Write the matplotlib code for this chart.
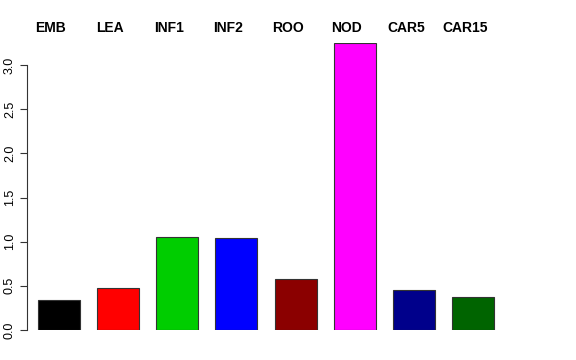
import matplotlib
matplotlib.use("Agg")
import matplotlib.pyplot as plt
import matplotlib.transforms as mtrans

categories = ["EMB", "LEA", "INF1", "INF2", "ROO", "NOD", "CAR5", "CAR15"]
values = [0.34, 0.47, 1.055, 1.045, 0.58, 3.25, 0.45, 0.37]
colors = ["#000000", "#FF0000", "#00CD00", "#0000FF", "#8B0000", "#FF00FF", "#00008B", "#006400"]
yticks = [0.0, 0.5, 1.0, 1.5, 2.0, 2.5, 3.0]

W, H = 576, 360
fig = plt.figure(figsize=(W / 100, H / 100), dpi=100)
plt.rcParams['font.family'] = ['Liberation Sans', 'DejaVu Sans']

left_px, right_px, bot_px, top_px = 27, 545, 330, 43
ax = fig.add_axes([left_px / W, 1 - bot_px / H, (right_px - left_px) / W, (bot_px - top_px) / H])

x = list(range(len(categories)))
ax.bar(x, values, width=0.71, color=colors, edgecolor="#333333", linewidth=0.8)

px_per_unit = (473 - 59) / 7
ax.set_xlim((left_px - 59) / px_per_unit, (right_px - 59) / px_per_unit)
ax.set_ylim(0, 3.25)

for s in ["top", "right", "bottom"]:
    ax.spines[s].set_visible(False)
ax.spines["left"].set_bounds(0, 3.0)
ax.spines["left"].set_color("#333333")
ax.set_xticks([])
ax.set_yticks(yticks)
ax.set_yticklabels([f"{t:.1f}" for t in yticks], rotation=90, va="center", fontsize=9)
ax.tick_params(axis="y", length=5, width=0.8, color="#333333", pad=3)

trans = mtrans.blended_transform_factory(ax.transData, fig.transFigure)
for i, c in enumerate(categories):
    ax.text(i - 8 / px_per_unit, 1 - 28 / H, c, transform=trans, ha="center", va="center",
            fontsize=10, fontweight="bold")

fig.savefig("out.png", dpi=100)
